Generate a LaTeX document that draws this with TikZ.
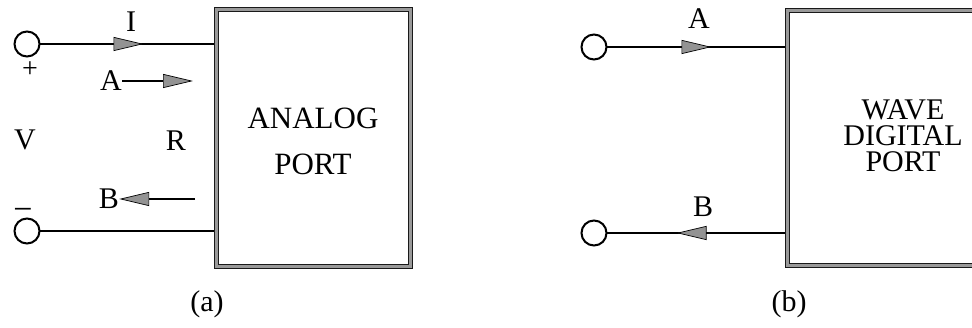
\documentclass[tikz,border=0pt]{standalone}
\usepackage{fontspec}
\setmainfont{Liberation Serif}
\usetikzlibrary{arrows.meta,decorations.markings,backgrounds}
\begin{document}
\begin{tikzpicture}[x=1pt,y=1pt,
  lbl/.style={font=\fontsize{30}{30}\selectfont, inner sep=0pt},
  terminal/.style={circle, draw, line width=2pt, minimum size=25pt, inner sep=0pt, outer sep=0pt},
  wire/.style={line width=1.5pt},
  port/.style={draw=black!90, line width=0.9pt, double=gray!80, double distance=3.2pt,
               outer sep=0pt, inner sep=0pt},
  wtip/.tip={Triangle[length=30pt,width=14pt,fill=gray!85,color=black,line width=0.7pt]},
  flowfwd/.style={postaction={decorate}, decoration={markings, mark=at position #1 with {\arrow{wtip}}}},
  flowrev/.style={postaction={decorate}, decoration={markings, mark=at position #1 with {\arrowreversed{wtip}}}},
]
\useasboundingbox (0,0) rectangle (972,328);
\clip (0,0) rectangle (972,328);

% ---------- (a) analog port ----------
\node[port, minimum width=194pt, minimum height=257pt] (ap) at (313.5,190) {};
\node[lbl, font=\fontsize{31}{31}\selectfont] (ap1) at (313,210) {ANALOG};
\node[lbl, font=\fontsize{31}{31}\selectfont] (ap2) at (313,164) {PORT};

\node[terminal] (t1) at (27,284) {};
\node[terminal] (t2) at (27,97) {};

\begin{pgfonlayer}{background}
\draw[wire, flowfwd=104pt] (t1.east) -- (t1.east -| ap.west);
\draw[wire] (t2.east) -- (t2.east -| ap.west);
\end{pgfonlayer}

\node[lbl] (I) at (131,306) {I};
\node[lbl, font=\fontsize{28}{28}\selectfont] (plus) at (30,258) {+};
\node[lbl, font=\fontsize{34}{34}\selectfont] (minus) at (23,114) {−};
\node[lbl] (V) at (25,188) {V};
\node[lbl] (R) at (176,187) {R};

\node[lbl] (A1) at (111,247) {A};
\coordinate (A1tip) at (193,247);
\draw[wire, -{wtip}] (A1.east) -- (A1tip);

\node[lbl] (B1) at (109,129) {B};
\coordinate (B1tail) at (195,129);
\draw[wire, -{wtip}] (B1tail) -- (B1.east);

\node[lbl] (capa) at (207,24) {(a)};

% ---------- (b) wave digital port ----------
\node[port, minimum width=260pt, minimum height=255pt] (wp) at (917.5,190) {};
\node[lbl] (wp1) at (903,218) {WAVE};
\node[lbl] (wp2) at (903,192) {DIGITAL};
\node[lbl] (wp3) at (903,166) {PORT};

\node[terminal] (t3) at (594,281) {};
\node[terminal] (t4) at (594,95) {};

\begin{pgfonlayer}{background}
\draw[wire, flowfwd=105pt] (t3.east) -- (t3.east -| wp.west);
\draw[wire, flowrev=70pt] (t4.east) -- (t4.east -| wp.west);
\end{pgfonlayer}

\node[lbl] (A2) at (699,309) {A};
\node[lbl] (B2) at (703,121) {B};
\node[lbl] (capb) at (789,24) {(b)};
\end{tikzpicture}
\end{document}
